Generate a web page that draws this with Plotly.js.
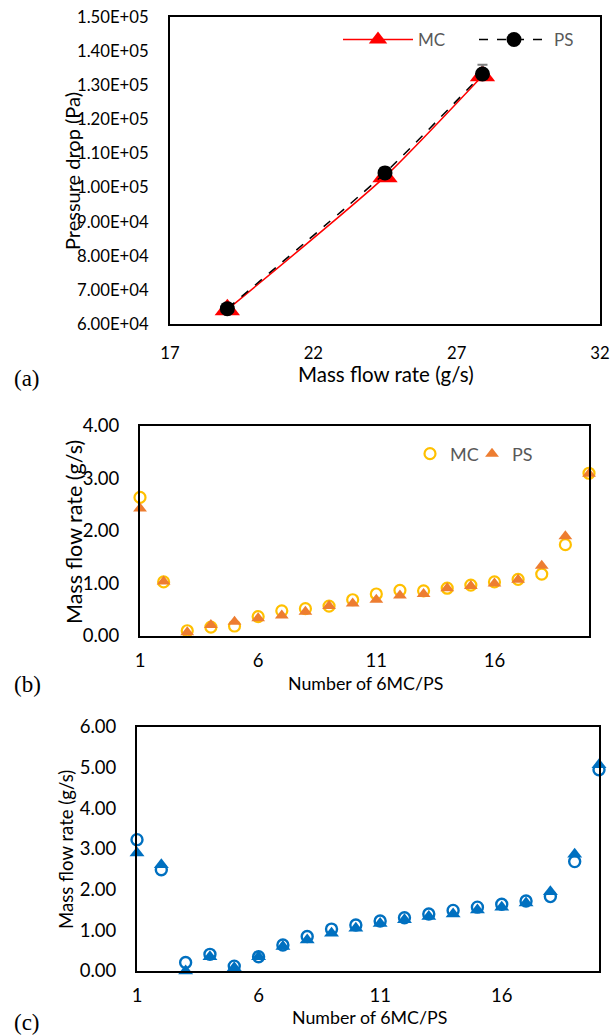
<!DOCTYPE html>
<html><head><meta charset="utf-8">
<script src="https://cdn.plot.ly/plotly-3.0.1.min.js"></script>
<style>html,body{margin:0;padding:0;background:#fff}#chart{width:610px;height:1035px}</style>
</head><body><div id="chart"></div>
<script>
// ---- Panel (a) data ----
const flowA = [19.0, 24.5, 27.9];
const mcA = [64200, 103200, 132800];
const psA = [64500, 104300, 133300];
const psErrUpA = [0, 1500, 2700];
const psErrDownA = [0, 800, 1200];
const yTickValsA = [60000, 70000, 80000, 90000, 100000, 110000, 120000, 130000, 140000, 150000];
const yTickTextA = ["6.00E+04", "7.00E+04", "8.00E+04", "9.00E+04", "1.00E+05", "1.10E+05", "1.20E+05", "1.30E+05", "1.40E+05", "1.50E+05"];
const xTickValsA = [17, 22, 27, 32];

// ---- Panels (b) and (c) data ----
const nodes = [1, 2, 3, 4, 5, 6, 7, 8, 9, 10, 11, 12, 13, 14, 15, 16, 17, 18, 19, 20];
const mcB = [2.64, 1.03, 0.10, 0.17, 0.19, 0.37, 0.48, 0.52, 0.57, 0.69, 0.80, 0.87, 0.86, 0.91, 0.97, 1.03, 1.08, 1.18, 1.74, 3.10];
const psB = [2.43, 1.04, 0.07, 0.21, 0.27, 0.34, 0.39, 0.46, 0.57, 0.62, 0.69, 0.77, 0.80, 0.91, 0.95, 1.00, 1.07, 1.34, 1.90, 3.09];
const mcC = [3.23, 2.49, 0.21, 0.41, 0.12, 0.35, 0.64, 0.85, 1.03, 1.13, 1.23, 1.31, 1.40, 1.49, 1.57, 1.64, 1.72, 1.83, 2.69, 4.95];
const psC = [2.90, 2.61, 0.00, 0.35, 0.08, 0.35, 0.60, 0.76, 0.93, 1.05, 1.17, 1.26, 1.34, 1.40, 1.50, 1.57, 1.67, 1.95, 2.87, 5.07];
const xTickValsBC = [1, 6, 11, 16];

const W = 610, H = 1035;
const px = (l, r) => [l / W, r / W];
const py = (top, bottom) => [(H - bottom) / H, (H - top) / H];
const FONT = "Lato, 'Open Sans', sans-serif";
const tickFontA = {family: FONT, size: 16.7, color: '#000'};
const tickFontBC = {family: FONT, size: 18.5, color: '#000'};

const traces = [
  {x: flowA, y: mcA, name: 'MC', type: 'scatter', mode: 'lines+markers', xaxis: 'x', yaxis: 'y',
   line: {color: '#FF0000', width: 1.5, shape: 'spline', smoothing: 0.6},
   marker: {symbol: 'triangle-up', size: 22, color: '#FF0000'}, cliponaxis: false, legend: 'legend'},
  {x: flowA, y: psA, name: 'PS', type: 'scatter', mode: 'lines+markers', xaxis: 'x', yaxis: 'y',
   line: {color: '#000000', width: 1.5, dash: 'dash', shape: 'spline', smoothing: 0.6},
   marker: {symbol: 'circle', size: 15, color: '#000000'}, cliponaxis: false, legend: 'legend2',
   error_y: {type: 'data', symmetric: false, array: psErrUpA, arrayminus: psErrDownA, visible: true, color: '#7f7f7f', thickness: 2, width: 5}},
  {x: nodes, y: mcB, name: 'MC', type: 'scatter', mode: 'markers', xaxis: 'x2', yaxis: 'y2',
   marker: {symbol: 'circle-open', size: 11, color: '#FFC000', line: {width: 2.2, color: '#FFC000'}},
   cliponaxis: false, legend: 'legend3'},
  {x: nodes, y: psB, name: 'PS', type: 'scatter', mode: 'markers', xaxis: 'x2', yaxis: 'y2',
   marker: {symbol: 'triangle-up', size: 12, color: '#ED7D31'}, cliponaxis: false, legend: 'legend4'},
  {x: nodes, y: mcC, name: 'MC', type: 'scatter', mode: 'markers', xaxis: 'x3', yaxis: 'y3', showlegend: false,
   marker: {symbol: 'circle-open', size: 11, color: '#0070C0', line: {width: 2.4, color: '#0070C0'}}, cliponaxis: false},
  {x: nodes, y: psC, name: 'PS', type: 'scatter', mode: 'markers', xaxis: 'x3', yaxis: 'y3', showlegend: false,
   marker: {symbol: 'triangle-up', size: 13, color: '#0070C0'}, cliponaxis: false}
];

const axBase = {showgrid: false, zeroline: false, showline: true, mirror: true, linecolor: '#000', linewidth: 2,
  ticks: '', fixedrange: true};

const legFontA = {family: FONT, size: 17, color: '#595959'};
const legFontB = {family: FONT, size: 18, color: '#595959'};
const legBase = {orientation: 'v', bgcolor: 'rgba(0,0,0,0)', borderwidth: 0, xanchor: 'left', yanchor: 'middle'};

function ann(text, x, y, size, angle) {
  return {text: text, x: x / W, y: 1 - y / H, xref: 'paper', yref: 'paper', showarrow: false, textangle: angle || 0,
    font: {family: FONT, size: size, color: '#000'}, xanchor: 'center', yanchor: 'middle'};
}
function lab(text, y) {
  return {text: text, x: 12 / W, y: 1 - y / H, xref: 'paper', yref: 'paper', showarrow: false,
    font: {family: "'Liberation Serif', 'DejaVu Serif', serif", size: 23, color: '#000'}, xanchor: 'left', yanchor: 'middle'};
}

const layout = {
  width: W, height: H, margin: {l: 0, r: 0, t: 0, b: 0},
  paper_bgcolor: '#fff', plot_bgcolor: '#fff', showlegend: true,
  xaxis: Object.assign({}, axBase, {domain: px(170, 600), range: [17, 32], tickvals: xTickValsA, anchor: 'y', tickfont: tickFontA, ticklabelstandoff: 13}),
  yaxis: Object.assign({}, axBase, {domain: py(17, 324), range: [60000, 150000], tickvals: yTickValsA, ticktext: yTickTextA, anchor: 'x', tickfont: tickFontA, ticklabelstandoff: 16}),
  xaxis2: Object.assign({}, axBase, {domain: px(140, 589), range: [1, 20], tickvals: xTickValsBC, anchor: 'y2', tickfont: tickFontBC, ticklabelstandoff: 7}),
  yaxis2: Object.assign({}, axBase, {domain: py(426, 636), range: [0, 4], dtick: 1, tickformat: '.2f', anchor: 'x2', tickfont: tickFontBC, ticklabelstandoff: 15}),
  xaxis3: Object.assign({}, axBase, {domain: px(137, 599), range: [1, 20], tickvals: xTickValsBC, anchor: 'y3', tickfont: tickFontBC, ticklabelstandoff: 7}),
  yaxis3: Object.assign({}, axBase, {domain: py(727, 971), range: [0, 6], dtick: 1, tickformat: '.2f', anchor: 'x3', tickfont: tickFontBC, ticklabelstandoff: 15}),
  legend: Object.assign({}, legBase, {x: 338 / W, y: 1 - 40 / H, itemwidth: 70, font: legFontA}),
  legend2: Object.assign({}, legBase, {x: 474 / W, y: 1 - 40 / H, itemwidth: 70, font: legFontA}),
  legend3: Object.assign({}, legBase, {x: 410 / W, y: 1 - 454 / H, itemwidth: 30, font: legFontB}),
  legend4: Object.assign({}, legBase, {x: 472 / W, y: 1 - 454 / H, itemwidth: 30, font: legFontB}),
  annotations: [
    ann('Pressure drop (Pa)', 72, 171, 20, -90),
    ann('Mass flow rate (g/s)', 386, 374, 20.5),
    ann('Mass flow rate (g/s)', 74, 532, 21.5, -90),
    ann('Number of 6MC/PS', 365, 683, 17.8),
    ann('Mass flow rate (g/s)', 66, 850, 18.6, -90),
    ann('Number of 6MC/PS', 369, 1017, 17.8),
    lab('(a)', 378), lab('(b)', 684), lab('(c)', 1022)
  ]
};

Plotly.newPlot('chart', traces, layout, {displayModeBar: false, staticPlot: true});
</script>
</body></html>
